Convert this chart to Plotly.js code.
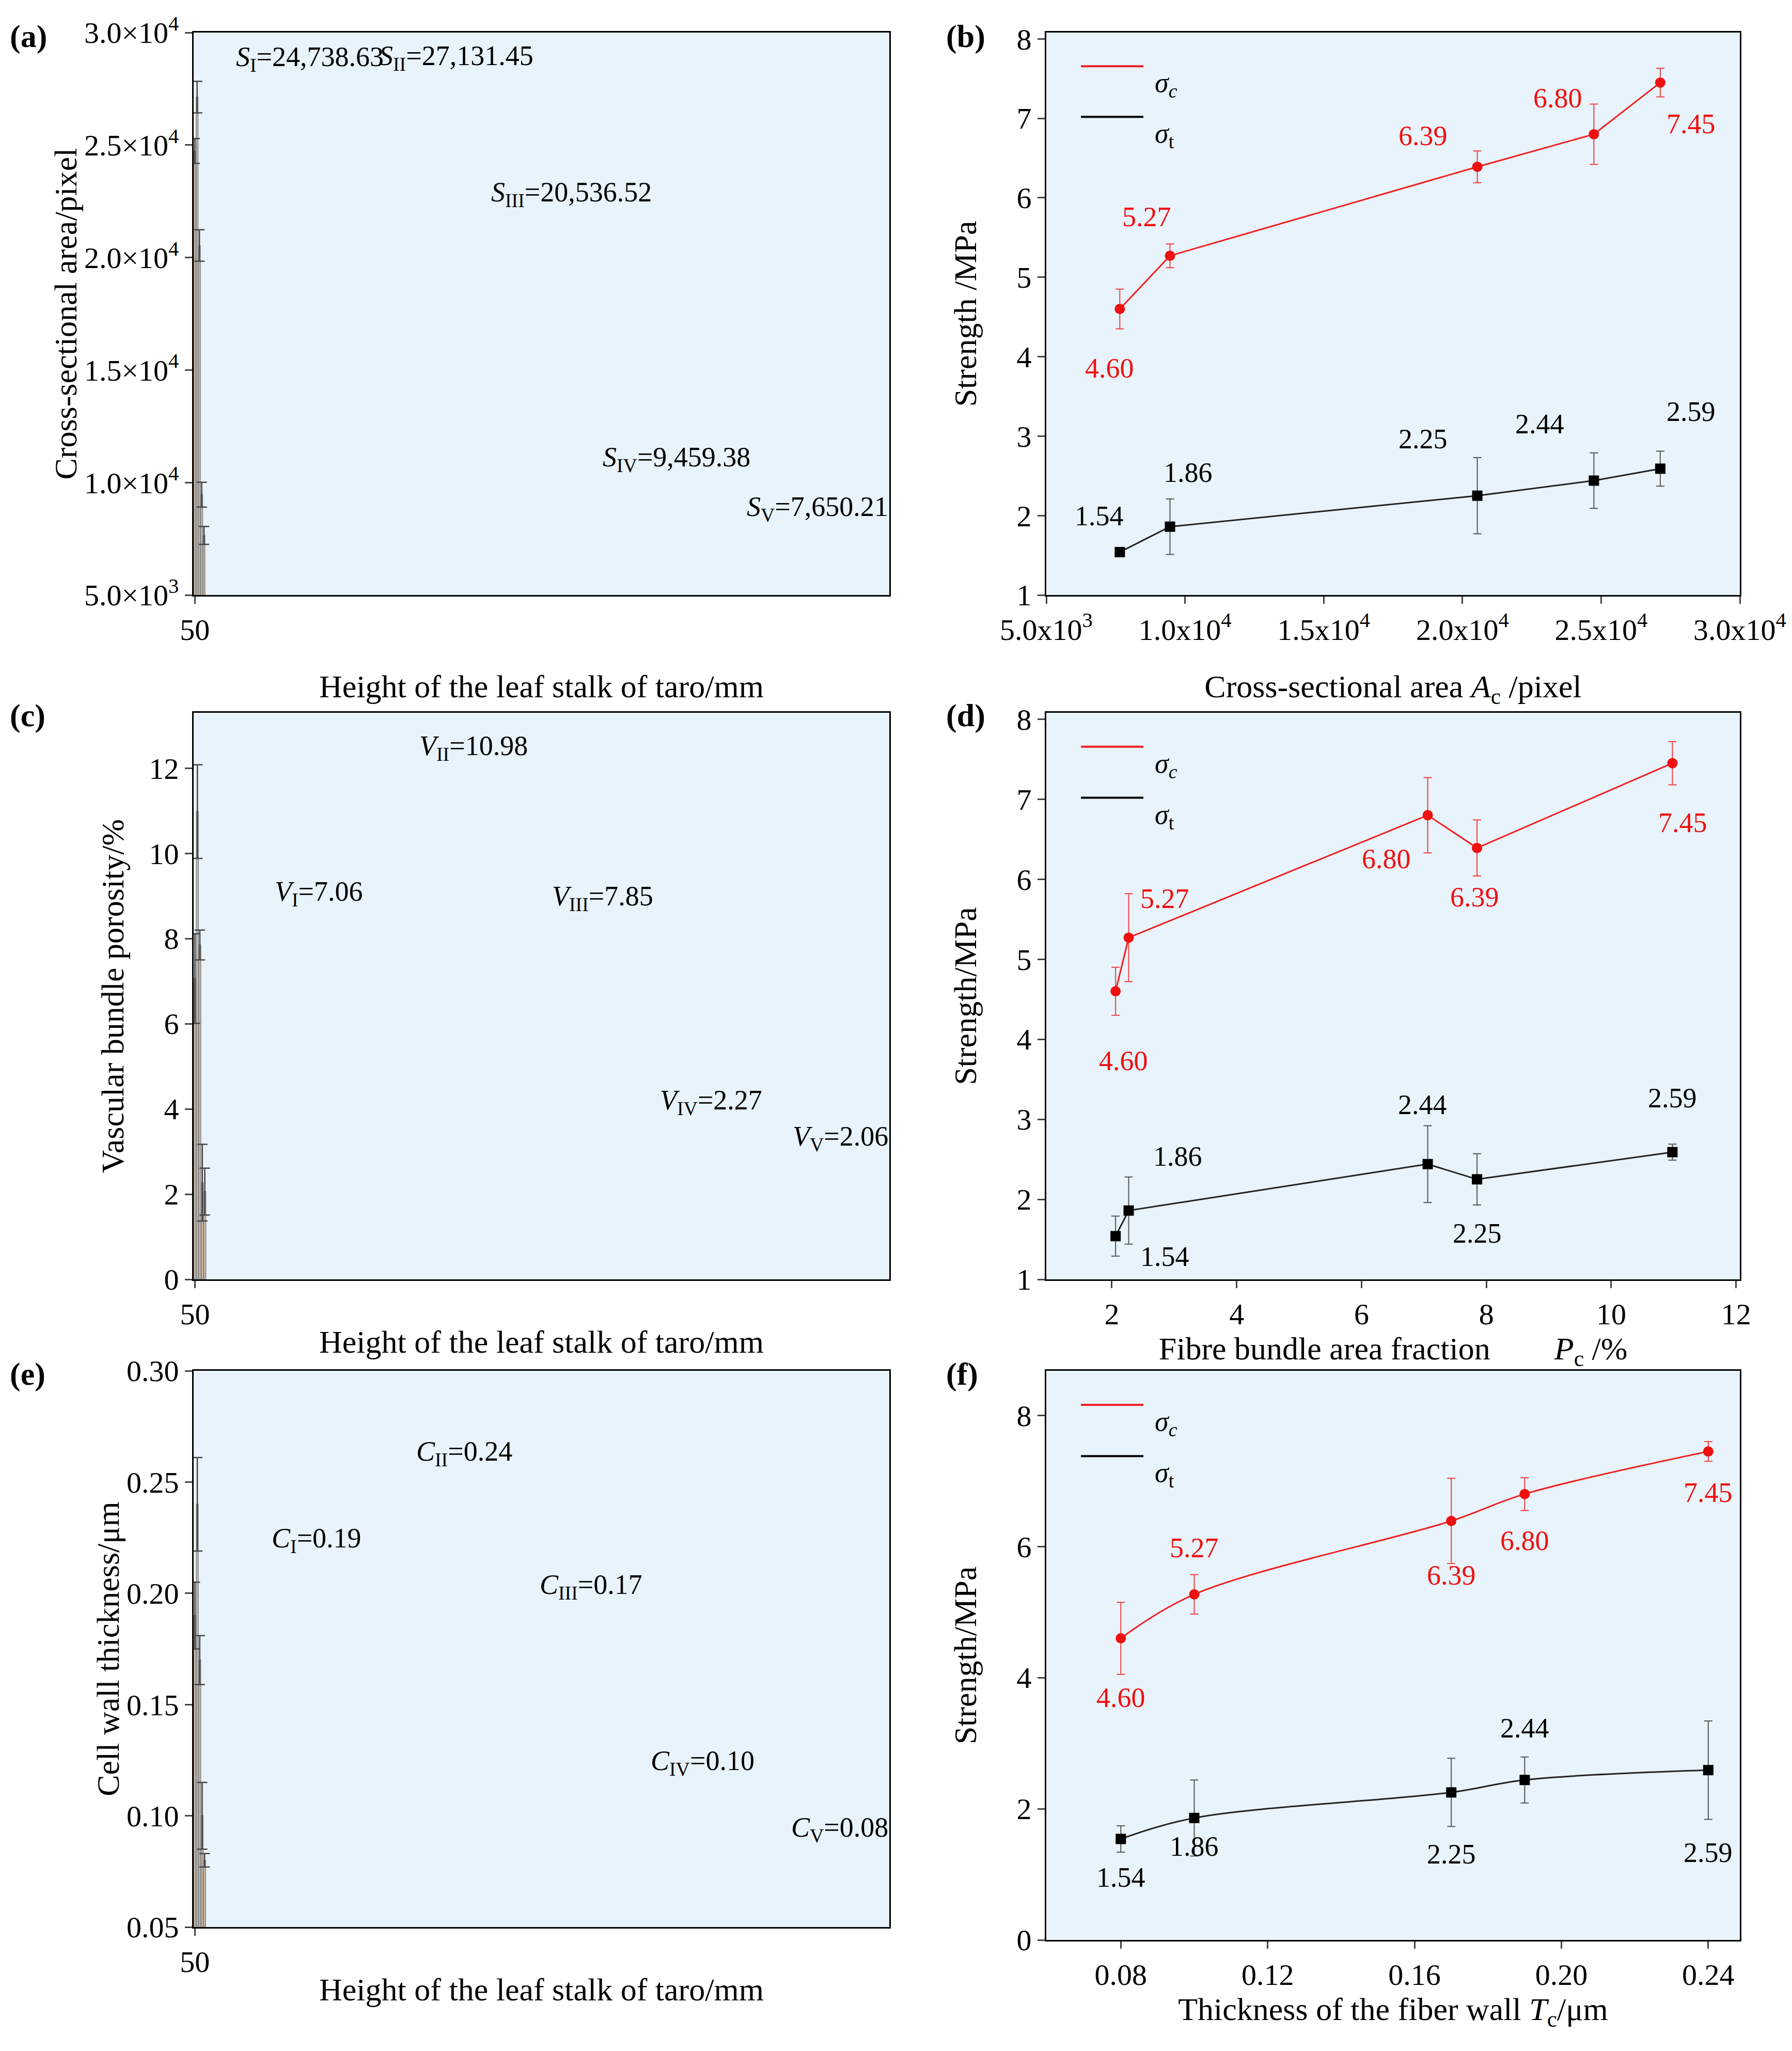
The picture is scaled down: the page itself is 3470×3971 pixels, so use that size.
<!DOCTYPE html><html><head><meta charset="utf-8">
<script src="https://cdn.plot.ly/plotly-3.0.1.min.js"></script>
<style>body{margin:0}</style></head><body><div id="g" style="width:3470px;height:3971px"></div>
<script>
const heights=['50','100','150','200','250'];
const area=[24738.63,27131.45,20536.52,9459.38,7650.21], areaErr=[550,700,700,550,400];
const poros=[7.06,10.98,7.85,2.27,2.06], porosErr=[1.05,1.1,0.35,0.9,0.55];
const wall=[0.19,0.24,0.17,0.10,0.08], wallErr=[0.015,0.021,0.011,0.015,0.003];
const bAx=[7650.21,9459.38,20536.52,24738.63,27131.45];
const bC=[4.60,5.27,6.39,6.80,7.45], bCe=[0.25,0.15,0.2,0.38,0.18];
const bT=[1.54,1.86,2.25,2.44,2.59], bTe=[0.05,0.35,0.48,0.35,0.22];
const dX=[2.06,2.27,7.06,7.85,10.98];
const dC=[4.60,5.27,6.80,6.39,7.45], dCe=[0.3,0.55,0.47,0.35,0.27];
const dT=[1.54,1.86,2.44,2.25,2.59], dTe=[0.25,0.42,0.48,0.32,0.1];
const fX=[0.08,0.10,0.17,0.19,0.24];
const fC=[4.60,5.27,6.39,6.80,7.45], fCe=[0.55,0.3,0.65,0.25,0.15];
const fT=[1.54,1.86,2.25,2.44,2.59], fTe=[0.2,0.58,0.52,0.35,0.75];
const roman=['I','II','III','IV','V'];
const aLab=['24,738.63','27,131.45','20,536.52','9,459.38','7,650.21'];

const W=3470,H=3971;
const F='Liberation Serif';
const px=(a,b)=>[a/W,b/W], py=(t,b)=>[1-b/H,1-t/H];
const L={width:W,height:H,margin:{l:0,r:0,t:0,b:0},showlegend:false,paper_bgcolor:'white',
 plot_bgcolor:'#e8f3fb',font:{family:F,size:58,color:'black'},annotations:[],shapes:[]};
const ax=(dom,extra)=>Object.assign({domain:dom,showline:true,mirror:true,linecolor:'black',linewidth:3,
 ticks:'outside',ticklen:14,tickwidth:3,showgrid:false,zeroline:false,tickfont:{size:58,family:F}},extra);
const panels=[
 {x:px(375,1722),y:py(63,1152)},{x:px(2026,3369),y:py(63,1152)},
 {x:px(375,1722),y:py(1380,2477)},{x:px(2026,3369),y:py(1380,2477)},
 {x:px(375,1722),y:py(2654,3731)},{x:px(2026,3369),y:py(2654,3756)}];
const traces=[];
function bars(i,y,e){
 traces.push({type:'bar',x:heights,y:y,xaxis:'x'+(i+1),yaxis:'y'+(i+1),width:0.7,
  marker:{color:'#f9d6b8',line:{color:'#888',width:2}},
  error_y:{type:'data',array:e,color:'#444',thickness:2.5,width:10}});
}
function lines(i,x,c,ce,t,te,shape){
 const m=(col,sym)=>({color:col,size:20,symbol:sym});
 traces.push({type:'scatter',mode:'lines+markers',x:x,y:c,xaxis:'x'+(i+1),yaxis:'y'+(i+1),
  line:{color:'#f02020',width:3,shape:shape||'linear'},marker:m('#f01010','circle'),
  error_y:{type:'data',array:ce,color:'#f04040',thickness:2,width:8}});
 traces.push({type:'scatter',mode:'lines+markers',x:x,y:t,xaxis:'x'+(i+1),yaxis:'y'+(i+1),
  line:{color:'#222',width:3,shape:shape||'linear'},marker:m('black','square'),
  error_y:{type:'data',array:te,color:'#555',thickness:2,width:8}});
 const n=i+1;
 [['#f02020','<i>σ<sub>c</sub></i>',0.94],['black','<i>σ</i><sub>t</sub>',0.85]].forEach(([col,txt,yy])=>{
  L.shapes.push({type:'line',xref:'x'+n+' domain',yref:'y'+n+' domain',x0:0.05,x1:0.14,y0:yy,y1:yy,line:{color:col,width:4}});
  L.annotations.push({xref:'x'+n+' domain',yref:'y'+n+' domain',x:0.155,y:yy,text:txt,showarrow:false,xanchor:'left',font:{size:54}});
 });
}
function lab(i,x,y,t,dx,dy,col){L.annotations.push({xref:'x'+(i+1),yref:'y'+(i+1),x:x,y:y,text:t,showarrow:false,xshift:dx,yshift:dy,font:{size:54,color:col||'black'}});}

// (a)
bars(0,area,areaErr);
L.xaxis=ax(panels[0].x,{type:'category',anchor:'y',title:{text:'Height of the leaf stalk of taro/mm',font:{size:62}}});
L.yaxis=ax(panels[0].y,{anchor:'x',range:[5000,30000],tickvals:[5000,10000,15000,20000,25000,30000],
 ticktext:['5.0×10<sup>3</sup>','1.0×10<sup>4</sup>','1.5×10<sup>4</sup>','2.0×10<sup>4</sup>','2.5×10<sup>4</sup>','3.0×10<sup>4</sup>'],
 title:{text:'Cross-sectional area/pixel',font:{size:62}}});
const aOff=[[0,4100],[60,1750],[60,2300],[40,1600],[90,1200]];
area.forEach((v,k)=>lab(0,heights[k],v+aOff[k][1],'<i>S</i><sub>'+roman[k]+'</sub>='+aLab[k],aOff[k][0],0));

// (b)
lines(1,bAx,bC,bCe,bT,bTe);
L.xaxis2=ax(panels[1].x,{anchor:'y2',range:[5000,30000],tickvals:[5000,10000,15000,20000,25000,30000],
 ticktext:['5.0x10<sup>3</sup>','1.0x10<sup>4</sup>','1.5x10<sup>4</sup>','2.0x10<sup>4</sup>','2.5x10<sup>4</sup>','3.0x10<sup>4</sup>'],
 title:{text:'Cross-sectional area <i>A</i><sub>c</sub> /pixel',font:{size:62}}});
L.yaxis2=ax(panels[1].y,{anchor:'x2',range:[1,8.08],dtick:1,title:{text:'Strength /MPa',font:{size:62}}});
const bCo=[[-20,-115],[-45,75],[-105,60],[-70,70],[60,-80]], bTo=[[-40,70],[35,105],[-105,110],[-105,110],[60,110]];
bAx.forEach((x,k)=>{lab(1,x,bC[k],bC[k].toFixed(2),bCo[k][0],bCo[k][1],'#f01010');lab(1,x,bT[k],bT[k].toFixed(2),bTo[k][0],bTo[k][1]);});

// (c)
bars(2,poros,porosErr);
L.xaxis3=ax(panels[2].x,{type:'category',anchor:'y3',title:{text:'Height of the leaf stalk of taro/mm',font:{size:62},standoff:0}});
L.yaxis3=ax(panels[2].y,{anchor:'x3',range:[0,13.3],dtick:2,title:{text:'Vascular bundle porosity/%',font:{size:62}}});
const cOff=[[0,2.0],[60,1.5],[70,1.1],[40,1.9],[50,1.25]];
poros.forEach((v,k)=>lab(2,heights[k],v+cOff[k][1],'<i>V</i><sub>'+roman[k]+'</sub>='+v.toFixed(2),cOff[k][0],0));

// (d)
lines(3,dX,dC,dCe,dT,dTe);
L.xaxis4=ax(panels[3].x,{anchor:'y4',range:[0.95,12.06],dtick:2,title:{text:'Fibre bundle area fraction        <i>P</i><sub>c</sub> /%',font:{size:62},standoff:0}});
L.yaxis4=ax(panels[3].y,{anchor:'x4',range:[1,8.08],dtick:1,title:{text:'Strength/MPa',font:{size:62}}});
const dCo=[[15,-135],[70,75],[-80,-85],[-5,-95],[20,-115]], dTo=[[95,-40],[95,105],[-10,115],[0,-105],[0,105]];
dX.forEach((x,k)=>{lab(3,x,dC[k],dC[k].toFixed(2),dCo[k][0],dCo[k][1],'#f01010');lab(3,x,dT[k],dT[k].toFixed(2),dTo[k][0],dTo[k][1]);});

// (e)
bars(4,wall,wallErr);
L.xaxis5=ax(panels[4].x,{type:'category',anchor:'y5',title:{text:'Height of the leaf stalk of taro/mm',font:{size:62},standoff:0}});
L.yaxis5=ax(panels[4].y,{anchor:'x5',range:[0.05,0.30],tickvals:[0.05,0.10,0.15,0.20,0.25,0.30],ticktext:['0.05','0.10','0.15','0.20','0.25','0.30'],
 title:{text:'Cell wall thickness/μm',font:{size:62}}});
const eOff=[[0,0.034],[50,0.023],[60,0.033],[40,0.024],[70,0.014]];
wall.forEach((v,k)=>lab(4,heights[k],v+eOff[k][1],'<i>C</i><sub>'+roman[k]+'</sub>='+v.toFixed(2),eOff[k][0],0));

// (f)
lines(5,fX,fC,fCe,fT,fTe,'spline');
L.xaxis6=ax(panels[5].x,{anchor:'y6',range:[0.0597,0.2486],tickvals:[0.08,0.12,0.16,0.20,0.24],ticktext:['0.08','0.12','0.16','0.20','0.24'],
 title:{text:'Thickness of the fiber wall <i>T</i><sub>c</sub>/μm',font:{size:62},standoff:0}});
L.yaxis6=ax(panels[5].y,{anchor:'x6',range:[0,8.68],dtick:2,title:{text:'Strength/MPa',font:{size:62}}});
const fCo=[[0,-115],[0,90],[0,-105],[0,-90],[0,-80]], fTo=[[0,-75],[0,-55],[0,-120],[0,100],[0,-160]];
fX.forEach((x,k)=>{lab(5,x,fC[k],fC[k].toFixed(2),fCo[k][0],fCo[k][1],'#f01010');lab(5,x,fT[k],fT[k].toFixed(2),fTo[k][0],fTo[k][1]);});

[['(a)',0.005,1-70/H],['(b)',1830/W,1-70/H],['(c)',0.005,1-1385/H],['(d)',1830/W,1-1385/H],['(e)',0.005,1-2660/H],['(f)',1830/W,1-2660/H]].forEach(([t,x,y])=>
 L.annotations.push({xref:'paper',yref:'paper',x:x,y:y,text:'<b>'+t+'</b>',showarrow:false,xanchor:'left',yanchor:'middle',font:{size:62}}));
Plotly.newPlot('g',traces,L,{staticPlot:true});
</script></body></html>
